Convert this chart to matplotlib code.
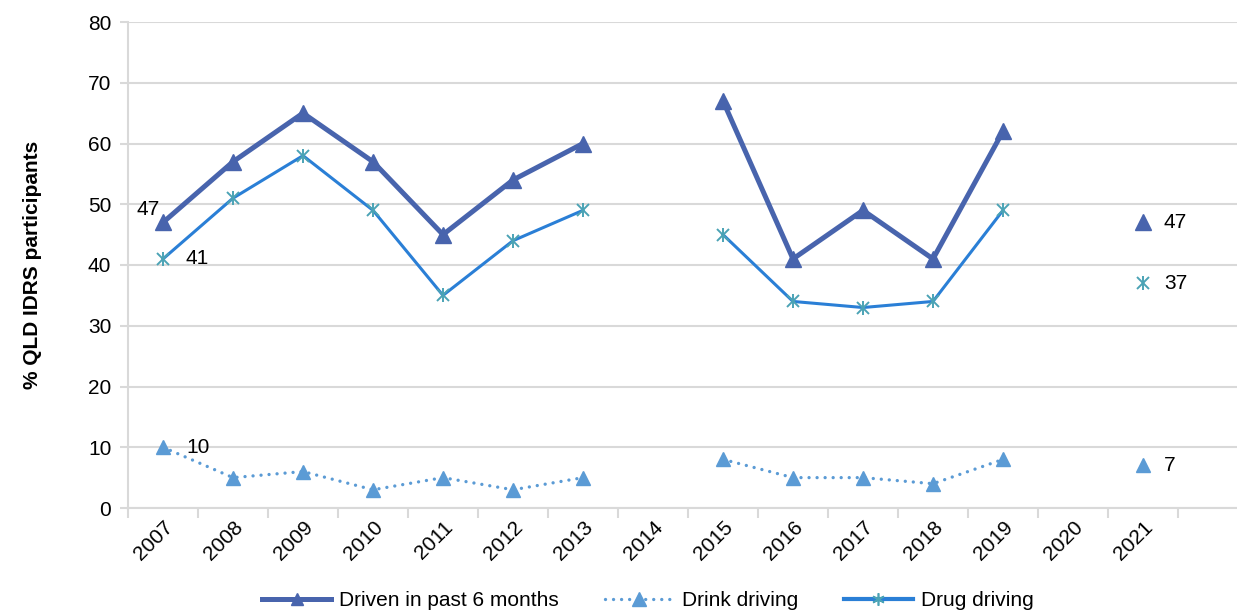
import numpy as np
import matplotlib
matplotlib.use("Agg")
import matplotlib.pyplot as plt
from matplotlib.lines import Line2D

plt.rcParams['font.family'] = ['Liberation Sans', 'DejaVu Sans']

years = ['2007', '2008', '2009', '2010', '2011', '2012', '2013', '2014',
         '2015', '2016', '2017', '2018', '2019', '2020', '2021']
nan = np.nan
driven = [47, 57, 65, 57, 45, 54, 60, nan, 67, 41, 49, 41, 62, nan, 47]
drink = [10, 5, 6, 3, 5, 3, 5, nan, 8, 5, 5, 4, 8, nan, 7]
drug = [41, 51, 58, 49, 35, 44, 49, nan, 45, 34, 33, 34, 49, nan, 37]
y_ticks = [0, 10, 20, 30, 40, 50, 60, 70, 80]

c_driven = '#4864ad'
c_drink = '#5b9bd5'
c_drug = '#2a7fd6'
c_drug_mk = '#4ba3b5'
grid_c = '#d9d9d9'
fs = 15
dot_style = (0, (0.01, 2.4))

fig = plt.figure(figsize=(12.37, 6.11), dpi=100)
ax = fig.add_axes([128 / 1237, 103 / 611, 1109 / 1237, 486 / 611])

x = np.arange(len(years))

ax.plot(x, driven, color=c_driven, lw=3.6, marker='^', ms=11,
        mfc=c_driven, mec=c_driven, zorder=4)
ax.plot(x, drink, color=c_drink, lw=2.4, ls=dot_style, dash_capstyle='round',
        marker='^', ms=10.5, mfc=c_drink, mec=c_drink, zorder=4)
ax.plot(x, drug, color=c_drug, lw=2.2, zorder=3)
ax.plot(x, drug, ls='none', marker='x', ms=8, mew=1.4, mec=c_drug_mk, zorder=5)
ax.plot(x, drug, ls='none', marker='|', ms=10.5, mew=1.4, mec=c_drug_mk, zorder=5)

ax.set_ylim(0, 80)
ax.set_xlim(-0.5, (1237 - 128) / 70 - 0.5)
ax.set_yticks(y_ticks)
ax.set_yticklabels([str(v) for v in y_ticks], fontsize=fs)
ax.yaxis.grid(True, color=grid_c, lw=1.5)
ax.set_axisbelow(True)

ax.set_xticks(x)
ax.set_xticklabels(years, rotation=45, ha='right', va='top', rotation_mode='anchor',
                   fontsize=fs)
ax.set_xticks(np.arange(len(years) + 1) - 0.5, minor=True)
ax.tick_params(axis='x', which='major', length=0, pad=7)
ax.tick_params(axis='x', which='minor', length=7, width=1.5, color=grid_c)
ax.tick_params(axis='y', length=6, width=1.5, color=grid_c, pad=6)

for s in ['top', 'right']:
    ax.spines[s].set_visible(False)
for s in ['left', 'bottom']:
    ax.spines[s].set_color(grid_c)
    ax.spines[s].set_linewidth(1.5)

ax.set_ylabel('% QLD IDRS participants', fontsize=fs, fontweight='bold', labelpad=33)

ax.annotate(str(driven[0]), (x[0], driven[0]), xytext=(-2, 9), textcoords='offset points',
            ha='right', va='center', fontsize=fs)
ax.annotate(str(drug[0]), (x[0], drug[0]), xytext=(16, 0), textcoords='offset points',
            ha='left', va='center', fontsize=fs)
ax.annotate(str(drink[0]), (x[0], drink[0]), xytext=(17, 0), textcoords='offset points',
            ha='left', va='center', fontsize=fs)
for series in (driven, drug, drink):
    ax.annotate(str(series[-1]), (x[-1], series[-1]), xytext=(15, 0), textcoords='offset points',
                ha='left', va='center', fontsize=fs)

handles = [
    Line2D([], [], color=c_driven, lw=3.6, marker='^', ms=9),
    Line2D([], [], color=c_drink, lw=2.4, ls=dot_style, dash_capstyle='round',
           marker='^', ms=10),
    Line2D([], [], color=c_drug, lw=3.0, marker=(6, 2, 0), ms=9, mec=c_drug_mk, mew=1.2),
]
fig.legend(handles, ['Driven in past 6 months', 'Drink driving', 'Drug driving'],
           loc='center', bbox_to_anchor=(648 / 1237, 1 - 601 / 611), ncol=3,
           frameon=False, fontsize=fs, handlelength=3.3, columnspacing=2.2,
           handletextpad=0.4)

fig.savefig('out.png', dpi=100)
